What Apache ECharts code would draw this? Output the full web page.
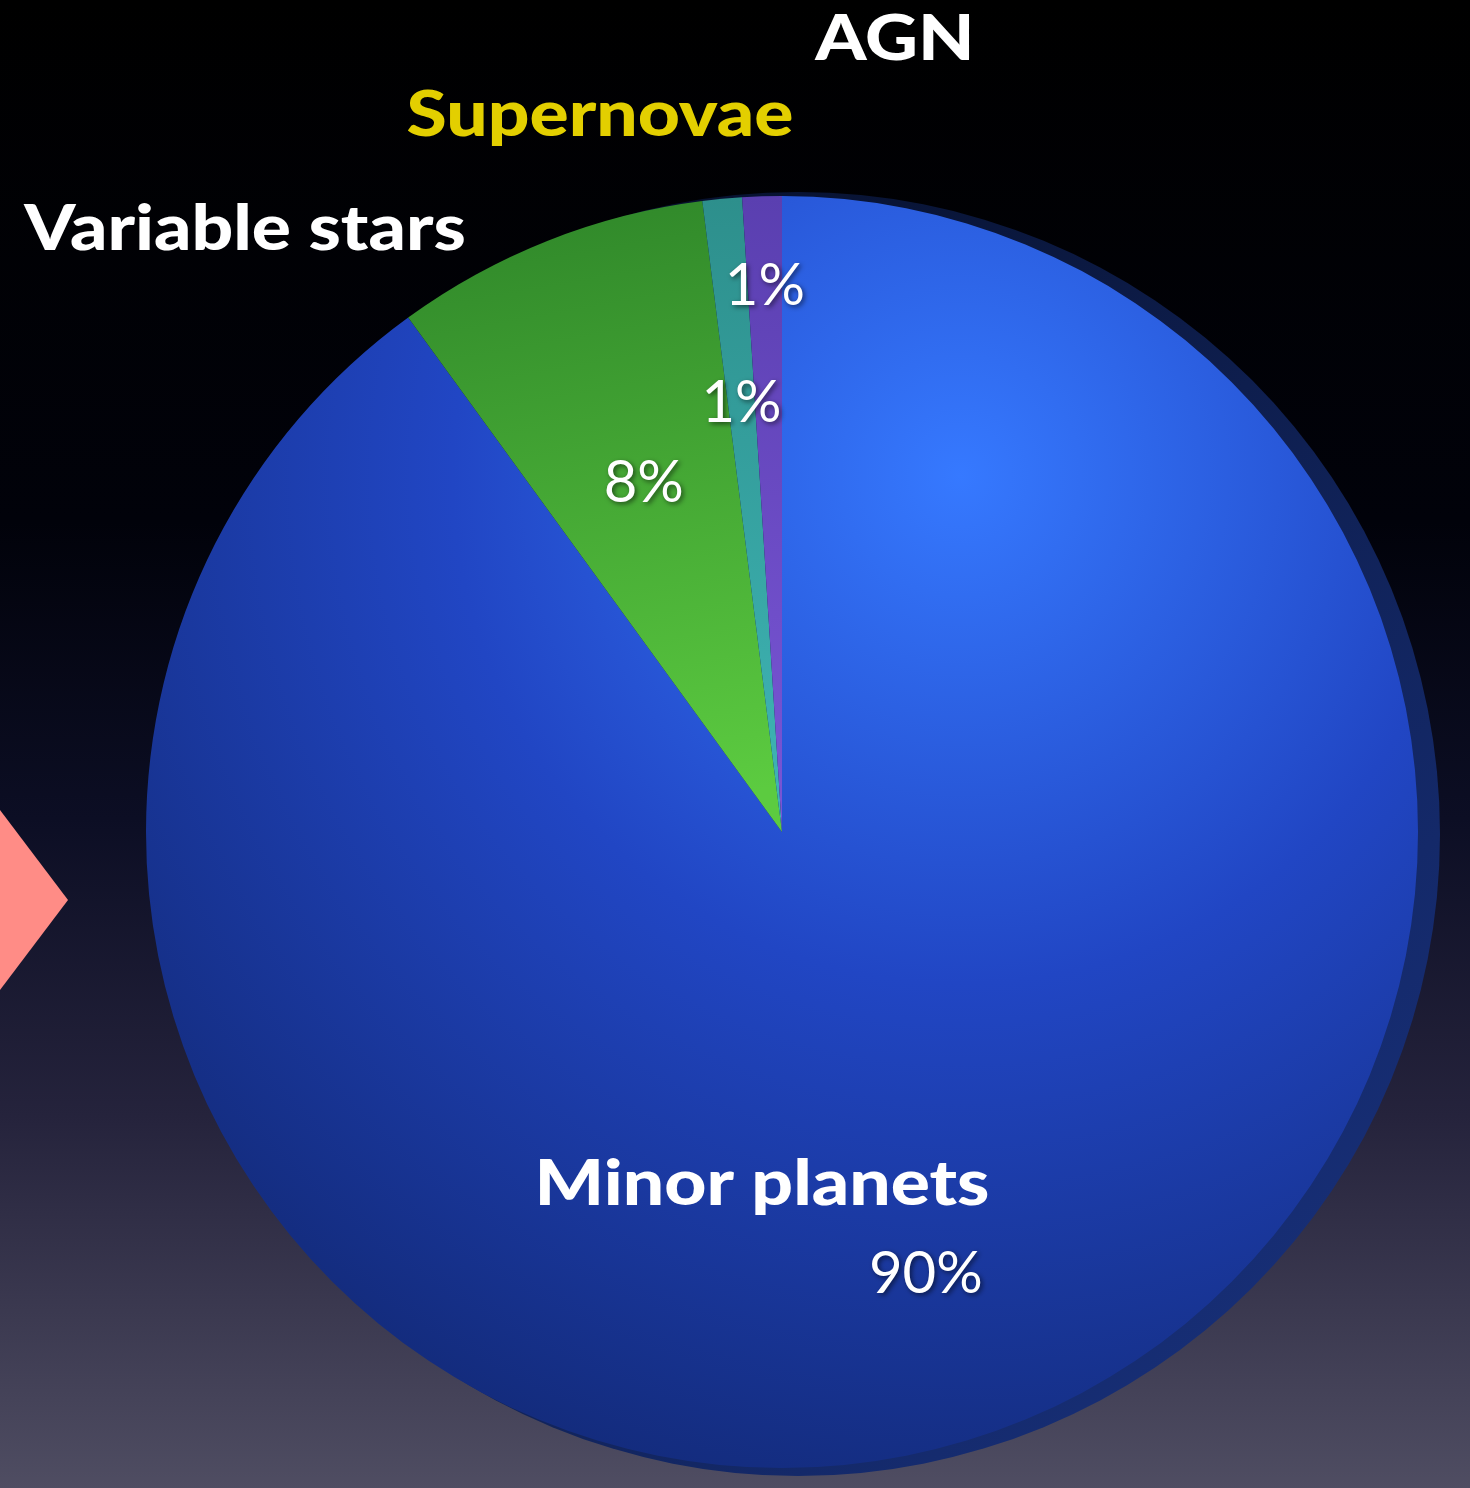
<!DOCTYPE html>
<html>
<head>
<meta charset="utf-8">
<title>Pie</title>
<script src="https://cdn.jsdelivr.net/npm/echarts@6/dist/echarts.min.js"></script>
<style>
    html, body { margin: 0; padding: 0; background: #000; }
    #chart { width: 1470px; height: 1488px; }
</style>
</head>
<body>
<div id="chart"></div>
<script>
// 分类与占比
var categories = ['Minor planets', 'Variable stars', 'Supernovae', 'AGN'];
var shares = [90, 8, 1, 1];
var nameColors = ['#ffffff', '#ffffff', '#e3cf00', '#ffffff'];

var cx = 782, cy = 832, R = 636;
// 百分比标签离圆心的距离(相对默认 inside 位置)
var labelPush = [1.45, 1.17, 1.34, 1.7];

var sliceColors = [
    { type: 'radial', x: 0.64, y: 0.22, r: 0.95, colorStops: [
        { offset: 0, color: '#3679ff' }, { offset: 0.42, color: '#2146c4' }, { offset: 1, color: '#0f2366' }] },
    { type: 'linear', x: 0, y: 0, x2: 0.3, y2: 1, colorStops: [
        { offset: 0, color: '#2e8529' }, { offset: 1, color: '#5ccb40' }] },
    { type: 'linear', x: 0, y: 0, x2: 0, y2: 1, colorStops: [
        { offset: 0, color: '#2d8f8c' }, { offset: 1, color: '#3fb6b6' }] },
    { type: 'linear', x: 0, y: 0, x2: 0, y2: 1, colorStops: [
        { offset: 0, color: '#5a3fb0' }, { offset: 1, color: '#7a56d6' }] }
];

var pieData = categories.map(function (c, i) {
    return { name: c, value: shares[i], itemStyle: { color: sliceColors[i] } };
});

// 分类名称文字
var namePos = [[762, 1185], [245, 230], [600, 116], [895, 40]];
var nameTexts = categories.map(function (c, i) {
    return {
        type: 'text', x: namePos[i][0], y: namePos[i][1], z: 100,
        scaleX: 1.18,
        style: {
            text: c, fill: nameColors[i], align: 'center', verticalAlign: 'middle',
            font: '900 62px Lato'
        }
    };
});

var chart = echarts.init(document.getElementById('chart'));
var option = {
    backgroundColor: {
        type: 'linear', x: 0, y: 0, x2: 0, y2: 1, colorStops: [
            { offset: 0, color: '#000000' },
            { offset: 0.35, color: '#01020a' },
            { offset: 0.55, color: '#0c0e24' },
            { offset: 0.75, color: '#25233c' },
            { offset: 1, color: '#4f4d62' }]
    },
    animation: false,
    graphic: [{
        type: 'polygon', z: 1,
        shape: { points: [[0, 810], [68, 900], [0, 990]] },
        style: { fill: '#ff8c86' }
    }].concat(nameTexts),
    series: [{
        // 饼图背后的暗色边缘
        type: 'pie', silent: true, z: 1,
        center: [cx + 16, cy + 2], radius: R + 6,
        label: { show: false }, labelLine: { show: false },
        data: [{ value: 1, itemStyle: { color: {
            type: 'linear', x: 0, y: 0, x2: 1, y2: 1, colorStops: [
                { offset: 0, color: '#020818' }, { offset: 1, color: '#1a3484' }] } } }]
    }, {
        type: 'pie', z: 2,
        center: [cx, cy], radius: R,
        startAngle: 90, clockwise: true,
        itemStyle: { borderWidth: 0 },
        label: {
            show: true, position: 'inside',
            formatter: '{d}%',
            color: '#ffffff', fontFamily: 'Lato', fontWeight: 400, fontSize: 58,
            textShadowColor: 'rgba(0,0,0,0.55)', textShadowBlur: 5,
            textShadowOffsetX: 2, textShadowOffsetY: 2
        },
        labelLine: { show: false },
        labelLayout: function (p) {
            var r = p.labelRect;
            var lx = r.x + r.width / 2, ly = r.y + r.height / 2;
            var f = labelPush[p.dataIndex];
            return { x: cx + (lx - cx) * f, y: cy + (ly - cy) * f, align: 'center', verticalAlign: 'middle' };
        },
        data: pieData
    }]
};
chart.setOption(option);
</script>
</body>
</html>
